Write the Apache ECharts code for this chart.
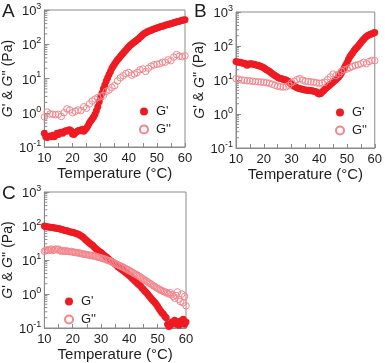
<!DOCTYPE html>
<html>
<head>
<meta charset="utf-8">
<script src="https://cdn.jsdelivr.net/npm/echarts@6/dist/echarts.min.js"></script>
<style>
html, body { margin: 0; padding: 0; background: #fff; }
#chart { width: 385px; height: 363px; }
</style>
</head>
<body>
<div id="chart"></div>
<script>
// temperatures (°C)
var tempHalf = [10, 10.5, 11, 11.5, 12, 12.5, 13, 13.5, 14, 14.5, 15, 15.5, 16, 16.5, 17, 17.5, 18, 18.5, 19, 19.5,
	20, 20.5, 21, 21.5, 22, 22.5, 23, 23.5, 24, 24.5, 25, 25.5, 26, 26.5, 27, 27.5, 28, 28.5, 29, 29.5,
	30, 30.5, 31, 31.5, 32, 32.5, 33, 33.5, 34, 34.5, 35, 35.5, 36, 36.5, 37, 37.5, 38, 38.5, 39, 39.5,
	40, 40.5, 41, 41.5, 42, 42.5, 43, 43.5, 44, 44.5, 45, 45.5, 46, 46.5, 47, 47.5, 48, 48.5, 49, 49.5,
	50, 50.5, 51, 51.5, 52, 52.5, 53, 53.5, 54, 54.5, 55, 55.5, 56, 56.5, 57, 57.5, 58, 58.5, 59, 59.5, 60];
var tempOne = [10, 11, 12, 13, 14, 15, 16, 17, 18, 19, 20, 21, 22, 23, 24, 25, 26, 27, 28, 29,
	30, 31, 32, 33, 34, 35, 36, 37, 38, 39, 40, 41, 42, 43, 44, 45, 46, 47, 48, 49,
	50, 51, 52, 53, 54, 55, 56, 57, 58, 59, 60];

// A : G' (tempHalf), G'' (tempOne)
var aStorage = [0.25, 0.2, 0.19, 0.2, 0.21, 0.2, 0.22, 0.2, 0.22, 0.25, 0.23, 0.26, 0.27, 0.25, 0.28, 0.3, 0.29, 0.31, 0.32, 0.3,
	0.24, 0.23, 0.26, 0.28, 0.3, 0.31, 0.3, 0.33, 0.29, 0.32, 0.36, 0.42, 0.5, 0.58, 0.66, 0.75, 0.9, 1.15, 1.5, 2.1,
	2.9, 3.8, 5, 6.5, 8.5, 10.5, 13, 16, 20, 23, 27, 31, 35, 39, 44, 49, 55, 61, 68, 76,
	85, 93, 100, 108, 116, 125, 135, 145, 160, 175, 190, 205, 218, 228, 238, 248, 258, 268, 278, 288,
	298, 308, 318, 328, 338, 348, 358, 368, 378, 390, 400, 412, 424, 436, 448, 460, 472, 485, 498, 510, 520];
var aLoss = [0.75, 1.05, 0.92, 0.9, 0.88, 0.9, 0.78, 1.0, 1.3, 1.2, 1.0, 1.1, 1.2, 1.15, 1.5, 1.35, 1.8, 2.2, 2.5, 2.8,
	3.0, 3.2, 4.2, 4.6, 5.5, 6.2, 8.5, 10.5, 12, 14, 15, 12.5, 13.5, 15, 18, 19, 16, 20, 23, 25,
	26, 27, 30, 30, 35, 33, 42, 50, 45, 43, 46];

// B : G' (tempHalf), G'' (tempOne)
var bStorage = [35, 34, 33, 33, 32, 31, 31, 30, 27, 29, 30, 30, 29, 29, 28, 27, 27, 26, 25, 24,
	23, 21.5, 20, 19, 18, 16.5, 15.5, 14.5, 13.5, 13, 12, 11.5, 11, 10.8, 10.5, 10.2, 10, 9.5, 9, 8.2,
	7.4, 7, 6.6, 6.2, 5.9, 5.7, 5.5, 5.4, 5.3, 5.2, 5.1, 5.0, 5.0, 4.9, 4.8, 4.8, 4.7, 4.6, 4.4, 4.1,
	3.9, 4.0, 4.4, 4.8, 5.3, 5.8, 6.3, 6.8, 7.4, 8.0, 8.7, 9.5, 10.3, 11.2, 12.3, 14, 16, 19, 23, 27,
	32, 40, 48, 55, 62, 72, 82, 90, 100, 112, 126, 142, 158, 175, 190, 203, 215, 222, 230, 240, 250];
var bLoss = [11, 10.5, 10, 9.8, 9.5, 9.4, 9.2, 9.0, 8.8, 8.7, 8.6, 8.3, 8.0, 7.5, 7.0, 6.6, 6.3, 6.2, 6.3, 7.0,
	8.3, 9.2, 10.3, 11, 10, 9.2, 9.0, 8.8, 8.6, 8.3, 8.0, 8.2, 8.6, 10.3, 12.3, 15, 13.5, 15, 18, 20,
	21, 23, 25, 27, 28, 30, 33, 30, 35, 38, 37];

// C : G' (tempHalf), G'' (tempHalf)
var cStorage = [100, 95, 95, 93, 92, 90, 90, 88, 87, 85, 84, 82, 80, 77, 75, 73, 72, 70, 68, 66,
	65, 63, 61, 59, 57, 54, 51, 48, 44, 40, 37, 34, 31, 29, 27, 24.5, 22, 20.5, 19, 17.5,
	16.5, 15, 14, 13, 12, 11, 10, 9.4, 8.8, 8.2, 7.6, 7.0, 6.3, 5.9, 5.5, 5.1, 4.8, 4.4, 4.1, 3.8,
	3.5, 3.2, 2.9, 2.65, 2.4, 2.2, 2.0, 1.85, 1.7, 1.5, 1.35, 1.2, 1.1, 0.98, 0.87, 0.78, 0.69, 0.62, 0.56, 0.5,
	0.43, 0.37, 0.32, 0.28, 0.26, 0.22, 0.2, 0.13, 0.11, 0.12, 0.15, 0.14, 0.17, 0.13, 0.15, 0.12, 0.16, 0.14, 0.18, 0.13, 0.15];
var cLoss = [18, 19, 20, 19, 20, 21, 19, 20, 21, 20, 21, 19, 18, 19, 18, 19, 18, 18, 17.5, 18,
	17, 17, 16.5, 16.5, 16, 16, 15.5, 15, 15, 14.5, 14.5, 14, 14, 13.5, 13.5, 13, 13, 12.5, 12, 12,
	11.5, 11, 11, 10.5, 10, 9.8, 9.5, 9.0, 8.6, 8.2, 7.9, 7.5, 7.2, 6.9, 6.6, 6.3, 6.0, 5.7, 5.4, 5.1,
	4.9, 4.6, 4.4, 4.1, 3.9, 3.7, 3.5, 3.3, 3.1, 2.9, 2.7, 2.55, 2.4, 2.25, 2.1, 2.0, 1.85, 1.75, 1.65, 1.55,
	1.45, 1.4, 1.3, 1.25, 1.2, 1.15, 1.1, 1.05, 1.0, 1.1, 0.95, 0.85, 0.75, 0.9, 1.15, 0.7, 0.6, 1.0, 0.55, 0.85, 0.45];

// log minor tick positions
var minorTickValues = [0.2, 0.3, 0.4, 0.5, 0.6, 0.7, 0.8, 0.9, 2, 3, 4, 5, 6, 7, 8, 9,
	20, 30, 40, 50, 60, 70, 80, 90, 200, 300, 400, 500, 600, 700, 800, 900];

var panelLetters = ['A', 'B', 'C'];

var RED = '#ee1b22';
var PINK = '#f2868c';
var AXIS = '#8a8a8a';
var TEXT = '#1e1e1e';
var FONT = '"Liberation Sans", Arial, sans-serif';

function pairs(xs, ys) {
	var out = [];
	for (var i = 0; i < ys.length; i++) {
		out.push([xs[i], ys[i]]);
	}
	return out;
}

var chart = echarts.init(document.getElementById('chart'), null, { renderer: 'canvas' });

var grids = [
	{ left: 37, top: 10, width: 148, height: 137 },
	{ left: 236, top: 12, width: 141, height: 136 },
	{ left: 39, top: 192, width: 147, height: 139 }
];

var xAxes = [], yAxes = [];
for (var g = 0; g < 3; g++) {
	grids[g].show = true;
	grids[g].borderColor = AXIS;
	grids[g].borderWidth = 1;
	grids[g].backgroundColor = 'transparent';
	xAxes.push({
		gridIndex: g,
		type: 'value',
		min: 10,
		max: 60,
		interval: 10,
		name: 'Temperature (°C)',
		nameLocation: 'middle',
		nameGap: 19,
		nameTextStyle: { fontFamily: FONT, fontSize: 15, color: TEXT },
		axisLine: { lineStyle: { color: AXIS } },
		axisTick: { inside: true, length: 4, lineStyle: { color: AXIS } },
		minorTick: { show: true, splitNumber: 2, length: 4, lineStyle: { color: AXIS } },
		axisLabel: { fontFamily: FONT, fontSize: 13, color: TEXT, margin: 5 },
		splitLine: { show: false }
	});
	yAxes.push({
		gridIndex: g,
		type: 'log',
		logBase: 10,
		min: 0.1,
		max: 1000,
		name: '{i|G}\' & {i|G}\'\' (Pa)',
		nameLocation: 'middle',
		nameGap: 22,
		nameRotate: 90,
		nameTextStyle: {
			fontFamily: FONT, fontSize: 14, color: TEXT,
			rich: { i: { fontFamily: FONT, fontSize: 14, color: TEXT, fontStyle: 'italic' } }
		},
		axisLine: { lineStyle: { color: AXIS } },
		axisTick: { inside: true, length: 5, lineStyle: { color: AXIS } },
		axisLabel: {
			margin: 3,
			formatter: function (v) {
				return '{b|10}{s|' + Math.round(Math.log10(v)) + '}';
			},
			rich: {
				b: { fontFamily: FONT, fontSize: 13, color: TEXT, lineHeight: 16, verticalAlign: 'bottom' },
				s: { fontFamily: FONT, fontSize: 9, color: TEXT, lineHeight: 10, verticalAlign: 'top' }
			}
		},
		splitLine: { show: false }
	});
}

function storageSeries(idx, xs, ys) {
	return {
		name: 'G\'',
		type: 'scatter',
		xAxisIndex: idx,
		yAxisIndex: idx,
		symbol: 'circle',
		symbolSize: 7,
		itemStyle: { color: RED, opacity: 1 },
		data: pairs(xs, ys),
		z: 3
	};
}

function lossSeries(idx, xs, ys) {
	return {
		name: 'G\'\'',
		type: 'scatter',
		xAxisIndex: idx,
		yAxisIndex: idx,
		symbol: 'circle',
		symbolSize: 6.5,
		itemStyle: { color: 'rgba(255,255,255,0)', borderColor: PINK, borderWidth: 1, opacity: 1 },
		data: pairs(xs, ys),
		z: 4
	};
}

function minorTickSeries(idx) {
	var d = [];
	for (var i = 0; i < minorTickValues.length; i++) {
		d.push([10, minorTickValues[i]]);
	}
	return {
		type: 'custom',
		xAxisIndex: idx,
		yAxisIndex: idx,
		silent: true,
		clip: false,
		data: d,
		z: 2,
		renderItem: function (params, api) {
			var p = api.coord([api.value(0), api.value(1)]);
			return {
				type: 'line',
				shape: { x1: p[0], y1: p[1], x2: p[0] + 3, y2: p[1] },
				style: { stroke: AXIS, lineWidth: 1 }
			};
		}
	};
}

var series = [
	minorTickSeries(0), minorTickSeries(1), minorTickSeries(2),
	storageSeries(0, tempHalf, aStorage), lossSeries(0, tempOne, aLoss),
	storageSeries(1, tempHalf, bStorage), lossSeries(1, tempOne, bLoss),
	storageSeries(2, tempHalf, cStorage), lossSeries(2, tempHalf, cLoss)
];

var legendBase = {
	orient: 'vertical',
	data: ['G\'', 'G\'\''],
	icon: 'circle',
	itemWidth: 8,
	itemHeight: 8,
	itemGap: 5,
	selectedMode: false,
	textStyle: { fontFamily: FONT, fontSize: 13, color: TEXT, padding: [0, 0, 0, 3] }
};

var option = {
	backgroundColor: '#fff',
	animation: false,
	title: [
		{ text: panelLetters[0], left: 2, top: 2 },
		{ text: panelLetters[1], left: 194, top: 2 },
		{ text: panelLetters[2], left: 2, top: 184 }
	].map(function (t) {
		t.textStyle = { fontFamily: FONT, fontSize: 19, fontWeight: 'normal', color: TEXT };
		t.padding = 0;
		return t;
	}),
	grid: grids,
	xAxis: xAxes,
	yAxis: yAxes,
	legend: [
		echarts.util.merge({ left: 134, top: 100 }, legendBase, true),
		echarts.util.merge({ left: 330, top: 101 }, legendBase, true),
		echarts.util.merge({ left: 59, top: 290 }, legendBase, true)
	],
	series: series
};

chart.setOption(option);
</script>
</body>
</html>
